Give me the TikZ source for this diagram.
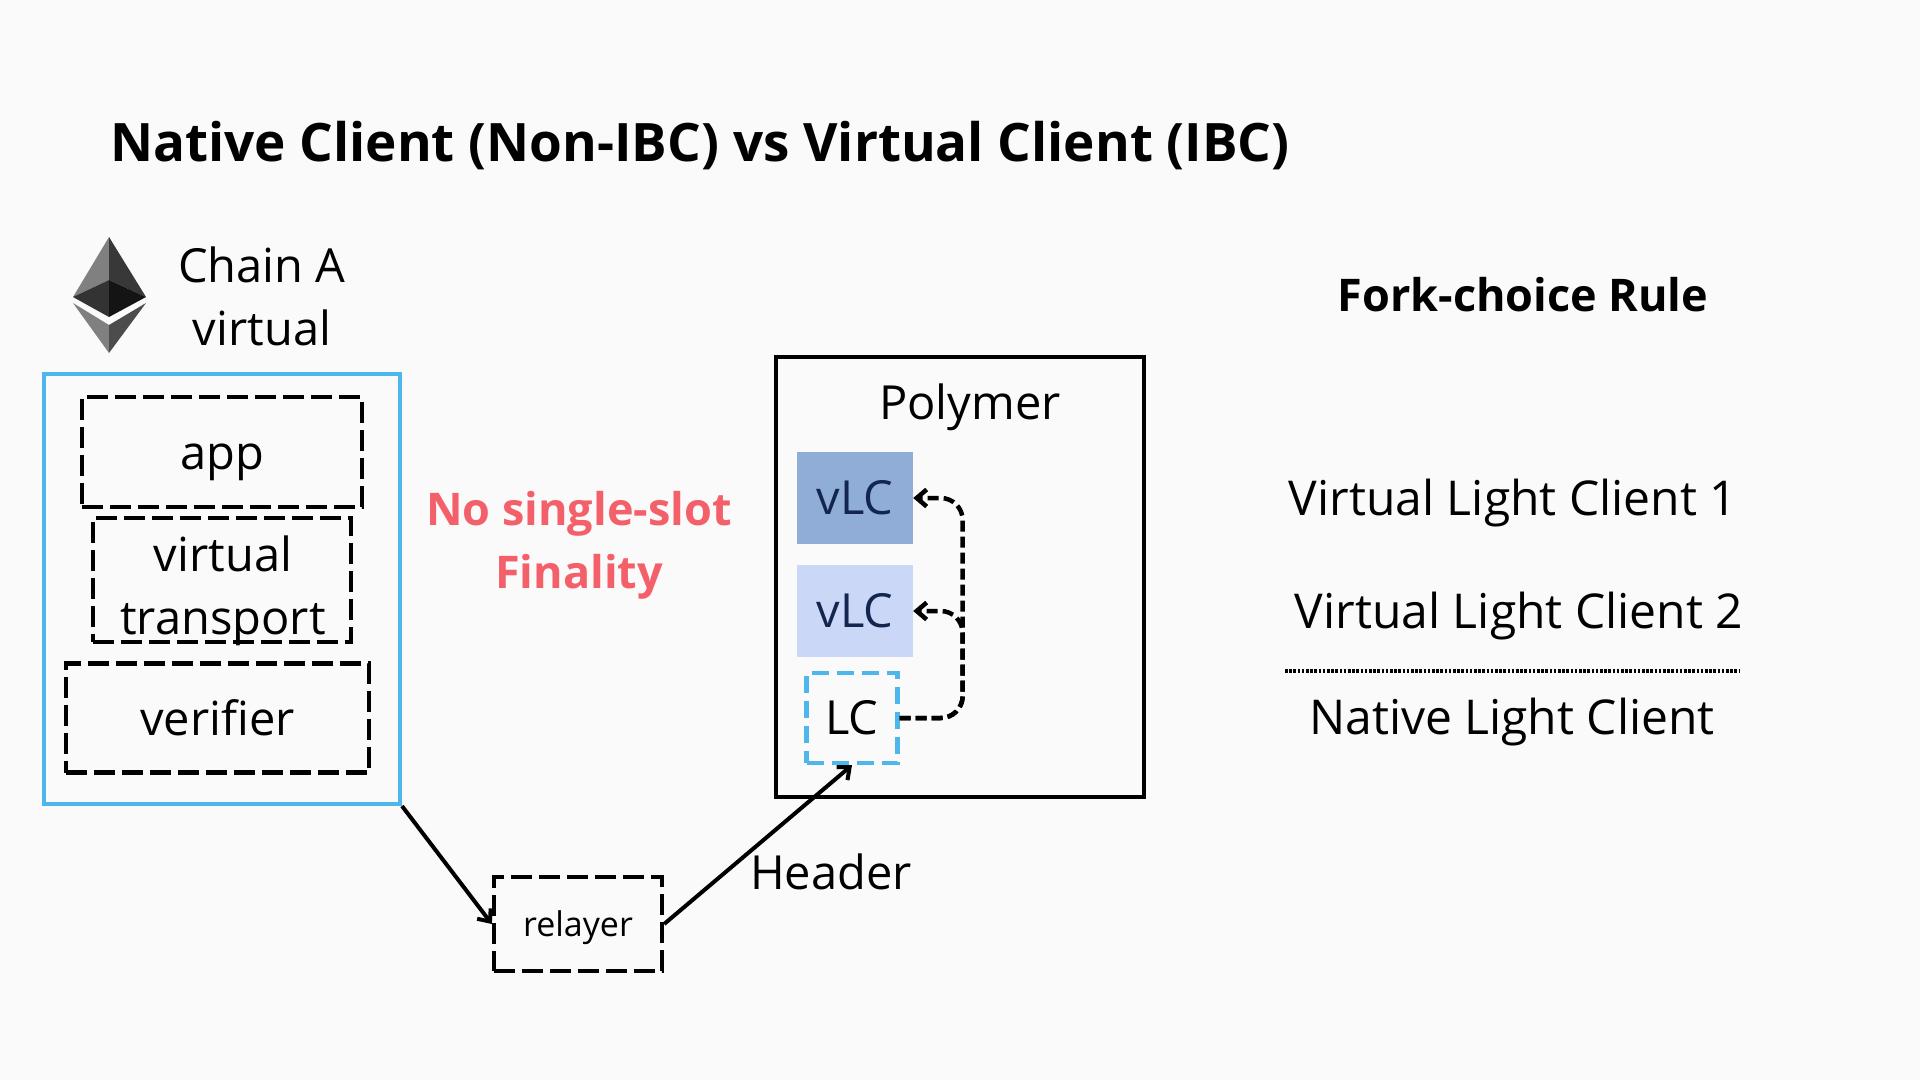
\documentclass[tikz,border=0pt]{standalone}
\usepackage{fontspec}
\usepackage{tikz}
\usetikzlibrary{arrows.meta}
\setmainfont{Open Sans}
\definecolor{pagebg}{HTML}{FAFAFA}
\definecolor{lcblue}{HTML}{4DB6EA}
\definecolor{vlcdark}{HTML}{8FADD6}
\definecolor{vlclight}{HTML}{CBD7F6}
\definecolor{vlctext}{HTML}{12264F}
\definecolor{slotred}{HTML}{F4606A}
\begin{document}
\begin{tikzpicture}[x=1pt,y=-1pt,>={Straight Barb[length=10pt,width=17pt]},
    txt/.style={font=\fontsize{47}{63}\selectfont,inner sep=0pt},
    rtxt/.style={txt,font=\fontsize{48}{63}\selectfont},
    dbox/.style={txt,draw,line width=4.3pt,dash pattern=on 21pt off 7pt},
    vbox/.style={txt,text=vlctext,minimum width=116pt,minimum height=92pt},
    lnk/.style={->,line width=4pt},
    dlnk/.style={lnk,line width=4.5pt,dash pattern=on 11pt off 5pt,rounded corners=22pt},
    eth/.style={draw=none}]
    \fill[pagebg] (0,0) rectangle (1920,1080);
    \useasboundingbox (0,0) rectangle (1920,1080);

    \node[font=\fontsize{53}{60}\bfseries\selectfont] (title) at (700,145.5) {Native Client (Non-IBC) vs Virtual Client (IBC)};

    % logo
    \fill[eth,fill=black!50] (109,237) -- (73,297) -- (109,280) -- cycle;
    \fill[eth,fill=black!78] (109,237) -- (146,297) -- (109,280) -- cycle;
    \fill[eth,fill=black!80] (73,297) -- (109,280) -- (109,317) -- cycle;
    \fill[eth,fill=black!92] (146,297) -- (109,280) -- (109,317) -- cycle;
    \fill[eth,fill=black!50] (73,303) -- (109,325) -- (109,353) -- cycle;
    \fill[eth,fill=black!70] (146,303) -- (109,325) -- (109,353) -- cycle;

    \node[txt,align=center] (chain) at (262,296) {Chain A\\virtual};
    \node[draw=lcblue,line width=4pt,minimum width=356pt,minimum height=430pt] (chainbox) at (222,589) {};
    \node[dbox,minimum width=280pt,minimum height=110pt,text height=47pt] (app) at (222,452) {app};
    \node[dbox,minimum width=258pt,minimum height=124pt] (vt) at (222,580) {};
    \node[txt,align=center] (vtname) at (223,591) {virtual\\transport};
    \node[dbox,minimum width=303pt,minimum height=109pt] (ver) at (217.5,718) {verifier};

    \node[txt,font=\fontsize{45}{63}\bfseries\selectfont,align=center,text=slotred] (nofin) at (579,545) {No single-slot\\Finality};

    \node[draw,line width=4pt,minimum width=368pt,minimum height=440pt] (poly) at (960,577) {};
    \node[txt] (polyname) at (970,407) {Polymer};
    \node[vbox,fill=vlcdark] (vlc1) at (855,498) {vLC};
    \node[vbox,fill=vlclight] (vlc2) at (855,611) {vLC};
    \node[dbox,draw=lcblue,dash pattern=on 17pt off 8pt,minimum width=91pt,minimum height=90pt] (lc) at (852,718) {LC};

    \node[dbox,font=\fontsize{34}{36}\selectfont,minimum width=168pt,minimum height=94pt,text height=33pt] (rel) at (578,924) {relayer};
    \node[txt] (hdr) at (831,872) {Header};

    \draw[lnk] (chainbox.south east) -- (rel.west);
    \draw[lnk] (rel.east) -- (lc.south);
    \draw[dlnk] (lc.east) -- ++(63,0) |- (vlc1.east);
    \draw[dlnk] (lc.east) -- ++(63,0) |- (vlc2.east);

    \node[txt,font=\fontsize{45}{50}\bfseries\selectfont] (fork) at (1523,295) {Fork-choice Rule};
    \node[rtxt] (v1) at (1513,503) {Virtual Light Client 1};
    \node[rtxt] (v2) at (1519,616.5) {Virtual Light Client 2};
    \coordinate (ruleL) at (1285,671);
    \coordinate (ruleR) at (1740,671);
    \draw[line width=4pt,dash pattern=on 2.5pt off 1.7pt] (ruleL) -- (ruleR);
    \node[rtxt] (nat) at (1512,722) {Native Light Client};
\end{tikzpicture}
\end{document}
